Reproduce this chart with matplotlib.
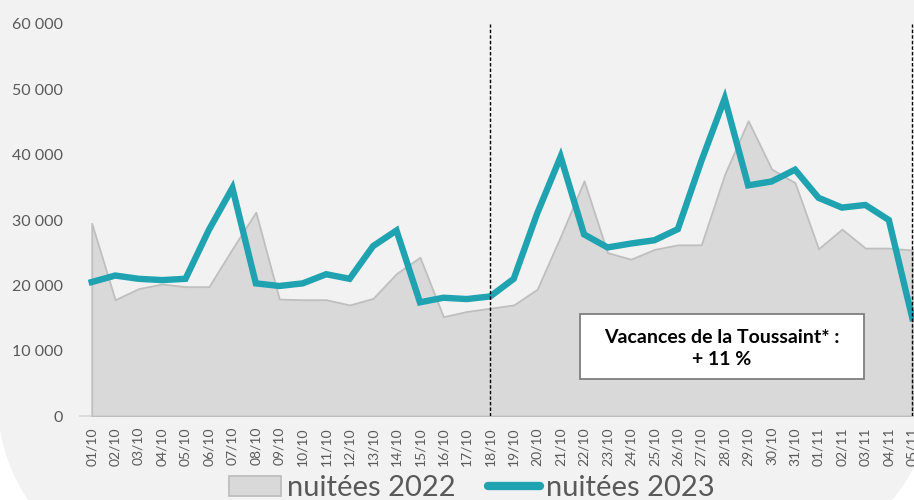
import matplotlib
matplotlib.use("Agg")
import matplotlib.pyplot as plt
import numpy as np
from matplotlib.patches import Polygon, Rectangle
from matplotlib.lines import Line2D

# dates 01/10 -> 05/11
jours = ["01/10", "02/10", "03/10", "04/10", "05/10", "06/10", "07/10", "08/10", "09/10",
         "10/10", "11/10", "12/10", "13/10", "14/10", "15/10", "16/10", "17/10", "18/10",
         "19/10", "20/10", "21/10", "22/10", "23/10", "24/10", "25/10", "26/10", "27/10",
         "28/10", "29/10", "30/10", "31/10", "01/11", "02/11", "03/11", "04/11", "05/11"]

nuitees_2022 = [29500, 17800, 19500, 20200, 19800, 19800, 25600, 31200, 17900,
                17800, 17800, 17000, 18000, 21800, 24300, 15200, 16000, 16500,
                17000, 19400, 27500, 36000, 25000, 24000, 25500, 26200, 26200,
                37000, 45200, 37800, 35700, 25600, 28600, 25700, 25700, 25400]

nuitees_2023 = [20500, 21500, 21000, 20800, 21000, 28500, 34900, 20300, 19900,
                20300, 21700, 21000, 26000, 28400, 17400, 18100, 17900, 18300,
                21000, 31000, 39700, 27800, 25800, 26400, 26900, 28600, 39000,
                48600, 35300, 35900, 37700, 33400, 31900, 32300, 30000, 15000]

vacances = ["18/10", "05/11"]

teal = "#1fa3b1"
txt_col = "#595959"

fig = plt.figure(figsize=(9.14, 5.0), dpi=100)
fig.patch.set_facecolor("white")

# rounded grey background
bg = fig.add_axes([0, 0, 1, 1], zorder=-5)
bg.set_xlim(0, 914)
bg.set_ylim(500, 0)
bg.axis("off")
a1 = np.radians(np.linspace(26.2, 41.2, 20))
a2 = np.radians(np.linspace(146, 170.4, 20))
pts = [(0, 0), (914, 0)]
pts += list(zip(777.75 + 151.8 * np.cos(a1), 400 + 151.8 * np.sin(a1)))
pts += list(zip(176.5 + 179 * np.cos(a2), 400 + 179 * np.sin(a2)))
bg.add_patch(Polygon(pts, closed=True, facecolor="#f2f2f2", edgecolor="none"))

ax = fig.add_axes([80 / 914, 84 / 500, 844 / 914, 392 / 500])
ax.set_facecolor("none")

x = np.arange(len(jours))
ax.fill_between(x, 0, nuitees_2022, facecolor="#d9d9d9", edgecolor="#bfbfbf",
                linewidth=1.3, zorder=2)
ax.plot(x, nuitees_2023, color=teal, linewidth=4.6, solid_joinstyle="miter", zorder=3)

for j in vacances:
    ax.axvline(jours.index(j), color="black", linewidth=1.0, linestyle=(0, (2.5, 1.5)), zorder=4)

ax.set_xlim(-0.5, len(jours) - 0.5)
ax.set_ylim(0, 60000)
ax.set_xticks(x)
ax.set_xticklabels(jours, rotation=90, fontsize=10, color=txt_col, family="Lato")
yt = np.arange(0, 60001, 10000)
ax.set_yticks(yt)
ax.set_yticklabels([f"{v:,}".replace(",", " ") for v in yt], fontsize=11.5,
                   color=txt_col, family="Lato")
ax.tick_params(axis="x", length=0, pad=8)
ax.tick_params(axis="y", length=0, pad=12)
for s in ["top", "right", "left"]:
    ax.spines[s].set_visible(False)
ax.spines["bottom"].set_color("#d9d9d9")
ax.spines["bottom"].set_linewidth(1.3)
ax.spines["bottom"].set_zorder(1)

# annotation box
ax.add_patch(Rectangle((0.592, 0.095), 0.337, 0.166, transform=ax.transAxes,
                       facecolor="white", edgecolor="#7f7f7f", linewidth=1.3, zorder=5))
ax.text(0.7605, 0.172, "Vacances de la Toussaint* :\n+ 11 %", transform=ax.transAxes,
        ha="center", va="center", fontsize=14, fontweight="bold", family="Lato",
        linespacing=1.3, zorder=6)

handles = [Rectangle((0, 0), 1, 1, facecolor="#d9d9d9", edgecolor="#bfbfbf", linewidth=1.3),
           Line2D([0], [0], color=teal, linewidth=6, solid_capstyle="round")]
leg = fig.legend(handles, ["nuitées 2022", "nuitées 2023"], loc="center",
                 bbox_to_anchor=(0.516, 0.024), ncol=2, frameon=False,
                 prop={"family": "Lato", "size": 21}, handlelength=1.8,
                 handletextpad=0.2, columnspacing=1.1, borderpad=0)
for t in leg.get_texts():
    t.set_color(txt_col)

fig.savefig("out.png", dpi=100, facecolor=fig.get_facecolor())
